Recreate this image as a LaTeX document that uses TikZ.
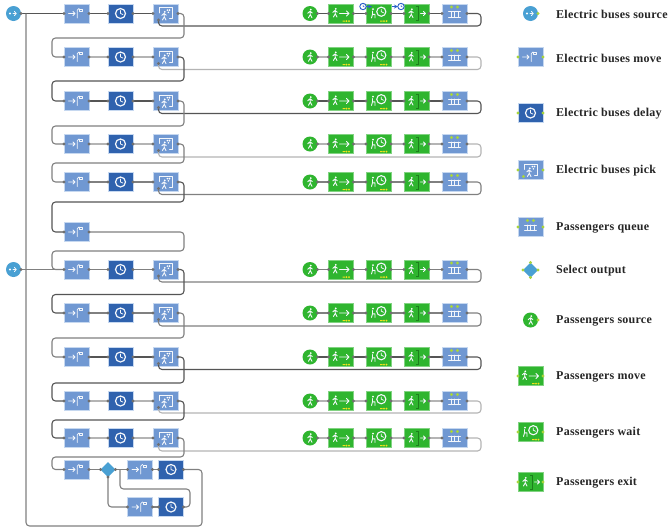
\documentclass[tikz,border=0pt]{standalone}
\usepackage{fontspec}
\setmainfont{Liberation Serif}
\newfontfamily\legf[LetterSpace=2]{Liberation Serif}
\usetikzlibrary{shapes.geometric,calc}
\definecolor{lb}{HTML}{7098D2}
\definecolor{db}{HTML}{2F62AE}
\definecolor{srcb}{HTML}{49A0D3}
\definecolor{gr}{HTML}{2FB52F}
\definecolor{dgr}{HTML}{1C7F1C}
\definecolor{edge}{HTML}{C6D8F0}
\definecolor{portg}{HTML}{707070}
\definecolor{portl}{HTML}{A8D53C}
\definecolor{yel}{HTML}{F2E21C}
\definecolor{Ld}{HTML}{555555}
\definecolor{Lm}{HTML}{808080}
\definecolor{Ll}{HTML}{B4B4B4}
\definecolor{mk}{HTML}{2A5FC8}
\tikzset{
  x=1pt,y=-1pt,
  blk/.style={rectangle,minimum width=25pt,minimum height=19pt,inner sep=0pt,outer sep=0pt,draw=edge,line width=.5pt},
  mv/.style={blk,fill=lb},
  dl/.style={blk,fill=db},
  gb/.style={blk,fill=gr,draw=gr!60!white},
  rd/.style={circle,minimum size=15pt,inner sep=0pt,outer sep=0pt},
  dm/.style={diamond,aspect=1,minimum size=15pt,inner sep=0pt,outer sep=0pt,fill=srcb},
  wire/.style={line width=1.1pt,rounded corners=3.5pt},
  ico/.style={white!92!lb,line width=.8pt,line cap=round,line join=round},
  leg/.style={font=\legf\bfseries\fontsize{12}{13}\selectfont,text=black!85,anchor=west,inner sep=0pt}
}
\newcommand{\prt}[2]{\fill[#2] (#1) circle[radius=1.6];}
\newcommand{\hd}[2]{\fill[white] (#1,#2) circle[radius=1];}
\newcommand{\man}[2]{\begin{scope}[shift={(#1,#2)}]\hd{0.8}{-4.2}\draw[ico,line width=.9pt] (-2.2,-.6)--(0,-2.6)--(0.3,.8)--(2,4) (0.3,.8)--(-1.6,4) (0,-2.6)--(2.3,-.8);\end{scope}}
\newcommand{\move}[3]{\node[mv] (#1) at (#2,#3) {};
 \begin{scope}[shift={(#1.center)}]\draw[ico] (-8,0)--(-1.5,0) (-3.5,-2)--(-1.5,0)--(-3.5,2);\draw[ico] (.8,4.5)--(.8,-3.5)--(2.6,-5);\draw[ico,line width=.5pt] (2.8,-4.5) rectangle (6,-2.5);\end{scope}}
\newcommand{\dela}[3]{\node[dl] (#1) at (#2,#3) {};
 \begin{scope}[shift={(#1.center)}]\draw[ico,line width=1.2pt] (0,0) circle[radius=5];\draw[ico] (0,-3)--(0,0)--(2.4,1);\end{scope}}
\newcommand{\pick}[3]{\node[mv] (#1) at (#2,#3) {};
 \begin{scope}[shift={(#1.center)}]\draw[ico] (-6.5,-.5)--(-6.5,-6)--(6.5,-6)--(6.5,5)--(4,5);\man{-1.5}{2.5}\fill[white] (1.8,-3.4) circle[radius=.9] (4,-3.4) circle[radius=.9] (2.9,-1.2) circle[radius=.9];\end{scope}
 \coordinate (#1b) at ($(#1.center)+(-7,6.5)$);}
\newcommand{\queue}[3]{\node[mv] (#1) at (#2,#3) {};
 \begin{scope}[shift={(#1.center)}]\draw[ico] (-6,-2)--(6,-2) (-6,3.6)--(6,3.6) (-3.5,-2)--(-3.5,3.6) (0,-2)--(0,3.6) (3.5,-2)--(3.5,3.6);\fill[portl] (-3,-6.5) circle[radius=1.7] (3,-6.5) circle[radius=1.7];\end{scope}}
\newcommand{\yd}{\fill[yel] (1.5,7) rectangle (4,8) (5.5,7.5) circle[radius=1] (8,7.5) circle[radius=1];}
\newcommand{\pmove}[3]{\node[gb] (#1) at (#2,#3) {};
 \begin{scope}[shift={(#1.center)}]\man{-6}{-.5}\draw[ico] (-1.5,0)--(8,0) (5.5,-2.5)--(8,0)--(5.5,2.5);\yd\end{scope}}
\newcommand{\pwait}[3]{\node[gb] (#1) at (#2,#3) {};
 \begin{scope}[shift={(#1.center)}]\hd{-5.5}{-4.5}\draw[ico,line width=.9pt] (-6,-2.5)--(-6,.8)--(-3.5,.8)--(-3.5,4.5) (-7,4.5)--(-6,.8);\draw[ico,line width=1.1pt] (2.8,-1.8) circle[radius=4.6];\draw[ico] (2.8,-4)--(2.8,-1.8)--(5,-.8);\yd\end{scope}}
\newcommand{\pexit}[3]{\node[gb] (#1) at (#2,#3) {};
 \begin{scope}[shift={(#1.center)}]\man{-5.5}{0}\draw[dgr,line width=1pt] (-.5,-7)--(1.5,-7)--(1.5,7)--(-.5,7);\draw[ico] (4,0)--(9,0) (7,-2)--(9,0)--(7,2);\end{scope}}
\newcommand{\psrc}[3]{\node[rd,fill=gr] (#1) at (#2,#3) {};
 \begin{scope}[shift={(#1.center)}]\man{0}{.3}\end{scope}}
\newcommand{\bsrc}[3]{\node[rd,fill=srcb] (#1) at (#2,#3) {};
 \begin{scope}[shift={(#1.center)}]\fill[white] (-3.5,0) circle[radius=1.2];\draw[ico] (-.5,0)--(2.8,0) (.8,-2.2)--(2.8,0)--(.8,2.2);\end{scope}}
\begin{document}
\begin{tikzpicture}
\useasboundingbox[fill=white] (0,0) rectangle (670,528);
\bsrc{s1}{13.5}{13.5}
\bsrc{s2}{13.5}{269.5}
\foreach \i/\y in {1/13.5,2/57,3/101,4/144,5/182,7/269.5,8/313,9/357,10/401,11/438}{
  \move{m\i}{76.5}{\y}\dela{d\i}{120.5}{\y}\pick{p\i}{165.5}{\y}
  \psrc{ps\i}{310}{\y}\pmove{pm\i}{341}{\y}\pwait{pw\i}{378.5}{\y}\pexit{px\i}{416.5}{\y}\queue{q\i}{454.5}{\y}
}
\move{m6}{76.5}{232}
\move{m12}{76.5}{469.5}
\node[dm] (so) at (108,469.5) {};
\move{ma}{140}{469.5}\dela{da}{171}{469.5}
\move{mb}{140}{507}\dela{db}{171}{507}
\foreach \i/\y/\c/\f in {1/13.5/Ld/26,2/57/Ll/69.5,3/101/Ld/113.5,4/144/Ll/157,5/182/Lm/194.5,7/269.5/Lm/282,8/313/Lm/326,9/357/Ld/369.5,10/401/Ll/413,11/438/Ll/451}{
  \draw[wire,\c] (m\i.east)--(d\i.west) (d\i.east)--(p\i.west) (ps\i.east)--(pm\i.west) (pm\i.east)--(pw\i.west) (pw\i.east)--(px\i.west) (px\i.east)--(q\i.west);
  \draw[wire,\c] (q\i.east)--(481,\y)--(481,\f)--(158.5,\f)--(p\i b);
}
\foreach \a/\b/\h/\c/\ya/\yb in {p1/m2/38/Lm/13.5/57,p2/m3/81/Ld/57/101,p3/m4/126/Lm/101/144,p4/m5/163/Lm/144/182,p5/m6/202/Ld/182/232,m6/m7/251/Lm/232/269.5,p7/m8/294.5/Ld/269.5/313,p8/m9/338/Lm/313/357,p9/m10/383/Ld/357/401,p10/m11/420/Ld/401/438,p11/m12/457/Lm/438/469.5}{
  \draw[wire,\c] (\a.east)--(184,\ya)--(184,\h)--(52,\h)--(52,\yb)--(\b.west);
}
\draw[wire,Ld] (s1.east)--(m1.west);
\draw[wire,Lm] (s2.east)--(m7.west);
\draw[wire,Lm] (m12.east)--(so.west);
\draw[wire,Lm] (so.east)--(ma.west) (ma.east)--(da.west) (mb.east)--(db.west);
\draw[wire,Lm] (so.south)--(108,507)--(mb.west);
\draw[wire,Lm] (db.east)--(190,507)--(190,489)--(120,489)--(120,469.5);
\draw[wire,Lm] (da.east)--(202,469.5)--(202,526)--(26,526)--(26,13.5);
\foreach \i in {1,2,3,4,5,7,8,9,10,11}{
 \foreach \n in {m\i.west,m\i.east,d\i.west,d\i.east,p\i.west,p\i.east,p\i b,ps\i.east,pm\i.west,pm\i.east,pw\i.west,pw\i.east,px\i.west,px\i.east,q\i.west,q\i.east}{\prt{\n}{portg}}
}
\foreach \n in {s1.east,s2.east,m6.west,m6.east,m12.west,m12.east,so.west,so.east,so.south,ma.west,ma.east,da.west,da.east,mb.west,mb.east,db.west,db.east}{\prt{\n}{portg}}
\foreach \n/\xx in {c1/363,c2/401}{
 \coordinate (\n) at (\xx,6.5);
 \draw[mk,line width=.9pt] (\n) circle[radius=3.2];
 \draw[mk,line width=.5pt] ($(\n)+(0,-1.8)$)--(\n)--($(\n)+(1.5,.5)$);
}
\draw[mk,line width=.8pt,->,>=stealth] ($(c1)+(3,0)$)--($(c1)+(9,0)$);
\draw[mk,line width=.8pt,->,>=stealth] ($(c2)+(-9,0)$)--($(c2)+(-3,0)$);
\bsrc{l1}{530.5}{13.5}\move{l2}{530.5}{57}\dela{l3}{530.5}{113}\pick{l4}{530.5}{170}\queue{l5}{530.5}{227}
\node[dm] (l6) at (530.5,270) {};
\psrc{l7}{530.5}{320}\pmove{l8}{530.5}{376}\pwait{l9}{530.5}{432}\pexit{l10}{530.5}{482}
\foreach \n in {l1.east,l2.west,l2.east,l3.west,l3.east,l4.west,l4.east,l4b,l5.west,l5.east,l6.west,l6.east,l6.north,l6.south,l7.east,l8.west,l8.east,l9.west,l9.east,l10.west,l10.east}{\prt{\n}{portl}}
\foreach \n/\t/\yy in {t1/Electric buses source/14,t2/Electric buses move/58,t3/Electric buses delay/114,t4/Electric buses pick/171,t5/Passengers queue/227.5,t6/Select output/271,t7/Passengers source/321,t8/Passengers move/377,t9/Passengers wait/433,t10/Passengers exit/483}{
 \node[leg] (\n) at (556,\yy) {\t};
}
\end{tikzpicture}
\end{document}
